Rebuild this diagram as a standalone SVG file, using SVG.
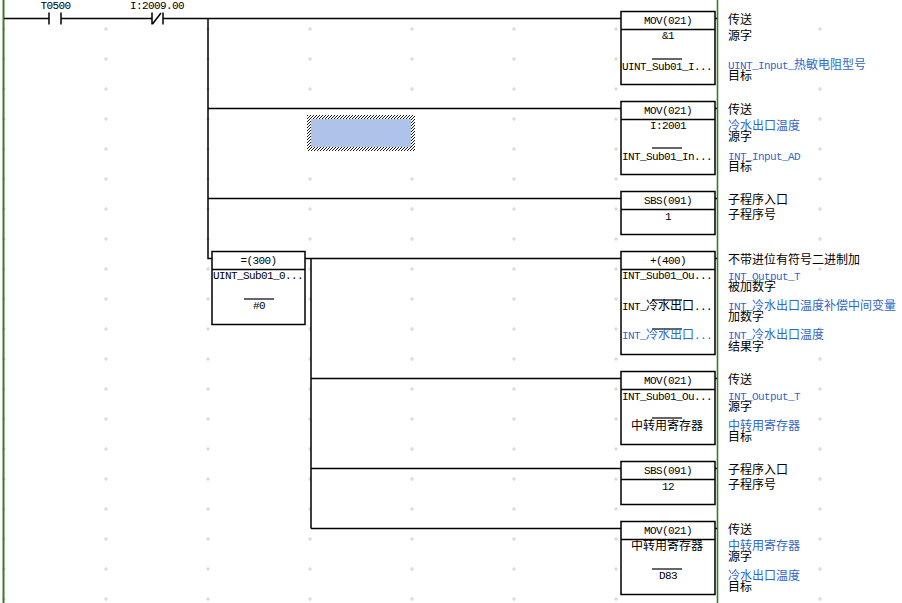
<svg xmlns="http://www.w3.org/2000/svg" width="902" height="603" viewBox="0 0 902 603">
<defs>
<style>
.ln{stroke:#000;stroke-width:1.5;fill:none}
.bx{fill:#fff;stroke:#000;stroke-width:1.5}
.ov{stroke:#000;stroke-width:1.2}
.rail{stroke:#3f7a26;fill:none}
.m{font-family:"Liberation Mono","DejaVu Sans Mono",monospace;font-size:11px;letter-spacing:-0.6px;fill:#000}
.c{text-anchor:middle}
.cj{font-family:"Noto Sans CJK SC","Noto Sans CJK JP",sans-serif;font-size:12px;letter-spacing:0}
.k{font-family:"Noto Sans CJK SC","Noto Sans CJK JP",sans-serif;font-size:12px;fill:#000}
.b{fill:#2f68c8}
.g{stroke:#d2d2d2;stroke-width:1}
</style>
<pattern id="hatch" patternUnits="userSpaceOnUse" width="3" height="3">
<rect width="3" height="3" fill="#fff"/>
<path d="M0 3 L3 0" stroke="#000" stroke-width="0.9"/>
</pattern>
</defs>
<rect width="902" height="603" fill="#fff"/>
<g id="grid">
<path class="g" d="M2 29H6M4 27V31M104 29H108M106 27V31M206 29H210M208 27V31M308 29H312M310 27V31M410 29H414M412 27V31M512 29H516M514 27V31M614 29H618M616 27V31M818 29H822M820 27V31
M2 59H6M4 57V61M104 59H108M106 57V61M206 59H210M208 57V61M308 59H312M310 57V61M410 59H414M412 57V61M512 59H516M514 57V61M614 59H618M616 57V61M818 59H822M820 57V61
M2 89H6M4 87V91M104 89H108M106 87V91M206 89H210M208 87V91M308 89H312M310 87V91M410 89H414M412 87V91M512 89H516M514 87V91M614 89H618M616 87V91M818 89H822M820 87V91
M2 119H6M4 117V121M104 119H108M106 117V121M206 119H210M208 117V121M308 119H312M310 117V121M410 119H414M412 117V121M512 119H516M514 117V121M614 119H618M616 117V121M818 119H822M820 117V121
M2 149H6M4 147V151M104 149H108M106 147V151M206 149H210M208 147V151M308 149H312M310 147V151M410 149H414M412 147V151M512 149H516M514 147V151M614 149H618M616 147V151M818 149H822M820 147V151
M2 179H6M4 177V181M104 179H108M106 177V181M206 179H210M208 177V181M308 179H312M310 177V181M410 179H414M412 177V181M512 179H516M514 177V181M614 179H618M616 177V181M818 179H822M820 177V181
M2 209H6M4 207V211M104 209H108M106 207V211M206 209H210M208 207V211M308 209H312M310 207V211M410 209H414M412 207V211M512 209H516M514 207V211M614 209H618M616 207V211M818 209H822M820 207V211
M2 239H6M4 237V241M104 239H108M106 237V241M206 239H210M208 237V241M308 239H312M310 237V241M410 239H414M412 237V241M512 239H516M514 237V241M614 239H618M616 237V241M818 239H822M820 237V241
M2 269H6M4 267V271M104 269H108M106 267V271M206 269H210M208 267V271M308 269H312M310 267V271M410 269H414M412 267V271M512 269H516M514 267V271M614 269H618M616 267V271M818 269H822M820 267V271
M2 299H6M4 297V301M104 299H108M106 297V301M206 299H210M208 297V301M308 299H312M310 297V301M410 299H414M412 297V301M512 299H516M514 297V301M614 299H618M616 297V301M818 299H822M820 297V301
M2 329H6M4 327V331M104 329H108M106 327V331M206 329H210M208 327V331M308 329H312M310 327V331M410 329H414M412 327V331M512 329H516M514 327V331M614 329H618M616 327V331M818 329H822M820 327V331
M2 359H6M4 357V361M104 359H108M106 357V361M206 359H210M208 357V361M308 359H312M310 357V361M410 359H414M412 357V361M512 359H516M514 357V361M614 359H618M616 357V361M818 359H822M820 357V361
M2 389H6M4 387V391M104 389H108M106 387V391M206 389H210M208 387V391M308 389H312M310 387V391M410 389H414M412 387V391M512 389H516M514 387V391M614 389H618M616 387V391M818 389H822M820 387V391
M2 419H6M4 417V421M104 419H108M106 417V421M206 419H210M208 417V421M308 419H312M310 417V421M410 419H414M412 417V421M512 419H516M514 417V421M614 419H618M616 417V421M818 419H822M820 417V421
M2 449H6M4 447V451M104 449H108M106 447V451M206 449H210M208 447V451M308 449H312M310 447V451M410 449H414M412 447V451M512 449H516M514 447V451M614 449H618M616 447V451M818 449H822M820 447V451
M2 479H6M4 477V481M104 479H108M106 477V481M206 479H210M208 477V481M308 479H312M310 477V481M410 479H414M412 477V481M512 479H516M514 477V481M614 479H618M616 477V481M818 479H822M820 477V481
M2 509H6M4 507V511M104 509H108M106 507V511M206 509H210M208 507V511M308 509H312M310 507V511M410 509H414M412 507V511M512 509H516M514 507V511M614 509H618M616 507V511M818 509H822M820 507V511
M2 539H6M4 537V541M104 539H108M106 537V541M206 539H210M208 537V541M308 539H312M310 537V541M410 539H414M412 537V541M512 539H516M514 537V541M614 539H618M616 537V541M818 539H822M820 537V541
M2 569H6M4 567V571M104 569H108M106 567V571M206 569H210M208 567V571M308 569H312M310 567V571M410 569H414M412 567V571M512 569H516M514 567V571M614 569H618M616 567V571M818 569H822M820 567V571
M2 599H6M4 597V601M104 599H108M106 597V601M206 599H210M208 597V601M308 599H312M310 597V601M410 599H414M412 597V601M512 599H516M514 597V601M614 599H618M616 597V601M818 599H822M820 597V601"/>
</g>
<g id="rails">
<path class="rail" d="M3.5 0V603" stroke-width="2"/>
<path class="rail" d="M717.5 0V603" stroke-width="1.6"/>
</g>
<g id="connectors">
<path class="ln" d="M4 18.5H49M61 18.5H152M163 18.5H621"/>
<path class="ln" d="M208 18.5V258.5H212"/>
<path class="ln" d="M208 108.5H621M208 198.5H621"/>
<path class="ln" d="M305 258.5H621M311 258.5V528.5M311 378.5H621M311 468.5H621M311 528.5H621"/>
<path class="ln" d="M715 18.5H717M715 108.5H717M715 198.5H717M715 258.5H717M715 378.5H717M715 468.5H717M715 528.5H717"/>
</g>
<g id="T0500">
<path class="ln" d="M49 12.5V24.5M61 12.5V24.5"/>
<text class="m c" x="55.5" y="9">T0500</text>
</g>
<g id="I2009">
<path class="ln" d="M152 12.5V24.5M163 12.5V24.5M152.5 24L161 13"/>
<text class="m c" x="157" y="9">I:2009.00</text>
</g>
<g id="selection">
<rect x="307" y="115" width="108" height="36" fill="url(#hatch)"/>
<rect x="311" y="119" width="100" height="28" fill="#adc3e9"/>
</g>
<g id="mov1">
<rect class="bx" x="621" y="11.5" width="94" height="73"/>
<path class="ln" d="M621 29.5H715"/>
<text class="m c" x="668" y="24">MOV(021)</text>
<text class="m c" x="668" y="39">&amp;1</text>
<path class="ov" d="M652 59H682"/>
<text class="m" x="622" y="70">UINT_Sub01_I...</text>
<text class="k" x="728" y="24">传送</text>
<text class="k" x="728" y="40">源字</text>
<text class="m b" x="728" y="69">UINT_Input_<tspan class="cj">热敏电阻型号</tspan></text>
<text class="k" x="728" y="80">目标</text>
</g>
<g id="mov2">
<rect class="bx" x="621" y="101.5" width="94" height="73"/>
<path class="ln" d="M621 119.5H715"/>
<text class="m c" x="668" y="114">MOV(021)</text>
<text class="m c" x="668" y="129">I:2001</text>
<path class="ov" d="M652 148H682"/>
<text class="m" x="622" y="160">INT_Sub01_In...</text>
<text class="k" x="728" y="114">传送</text>
<text class="k b" x="728" y="130">冷水出口温度</text>
<text class="k" x="728" y="141">源字</text>
<text class="m b" x="728" y="160">INT_Input_AD</text>
<text class="k" x="728" y="171">目标</text>
</g>
<g id="sbs1">
<rect class="bx" x="621" y="191.5" width="94" height="43"/>
<path class="ln" d="M621 209.5H715"/>
<text class="m c" x="668" y="204">SBS(091)</text>
<text class="m c" x="668" y="220">1</text>
<text class="k" x="728" y="204">子程序入口</text>
<text class="k" x="728" y="219">子程序号</text>
</g>
<g id="eq300">
<rect class="bx" x="212" y="251.5" width="93" height="73"/>
<path class="ln" d="M212 269.5H305"/>
<text class="m c" x="258.5" y="264">=(300)</text>
<text class="m" x="213" y="279">UINT_Sub01_0...</text>
<path class="ov" d="M244 299H274"/>
<text class="m c" x="259" y="309">#0</text>
</g>
<g id="add400">
<rect class="bx" x="621" y="251.5" width="94" height="103"/>
<path class="ln" d="M621 269.5H715"/>
<text class="m c" x="668" y="264">+(400)</text>
<text class="m" x="622" y="279">INT_Sub01_Ou...</text>
<path class="ov" d="M652 300H682"/>
<text class="m" x="622" y="310">INT_<tspan class="cj">冷水出口</tspan>...</text>
<path class="ov" d="M652 329H682"/>
<text class="m b" x="622" y="339">INT_<tspan class="cj">冷水出口</tspan>...</text>
<text class="k" x="728" y="264">不带进位有符号二进制加</text>
<text class="m b" x="728" y="280">INT_Output_T</text>
<text class="k" x="728" y="291">被加数字</text>
<text class="m b" x="728" y="310">INT_<tspan class="cj">冷水出口温度补偿中间变量</tspan></text>
<text class="k" x="728" y="321">加数字</text>
<text class="m b" x="728" y="339">INT_<tspan class="cj">冷水出口温度</tspan></text>
<text class="k" x="728" y="351">结果字</text>
</g>
<g id="mov3">
<rect class="bx" x="621" y="371.5" width="94" height="73"/>
<path class="ln" d="M621 389.5H715"/>
<text class="m c" x="668" y="384">MOV(021)</text>
<text class="m" x="622" y="400">INT_Sub01_Ou...</text>
<path class="ov" d="M652 418H682"/>
<text class="k c" x="667" y="430">中转用寄存器</text>
<text class="k" x="728" y="384">传送</text>
<text class="m b" x="728" y="400">INT_Output_T</text>
<text class="k" x="728" y="411">源字</text>
<text class="k b" x="728" y="430">中转用寄存器</text>
<text class="k" x="728" y="441">目标</text>
</g>
<g id="sbs2">
<rect class="bx" x="621" y="461.5" width="94" height="43"/>
<path class="ln" d="M621 479.5H715"/>
<text class="m c" x="668" y="474">SBS(091)</text>
<text class="m c" x="668" y="490">12</text>
<text class="k" x="728" y="474">子程序入口</text>
<text class="k" x="728" y="489">子程序号</text>
</g>
<g id="mov4">
<rect class="bx" x="621" y="521.5" width="94" height="73"/>
<path class="ln" d="M621 539.5H715"/>
<text class="m c" x="668" y="534">MOV(021)</text>
<text class="k c" x="667" y="550">中转用寄存器</text>
<path class="ov" d="M652 569H682"/>
<text class="m c" x="668" y="579">D83</text>
<text class="k" x="728" y="534">传送</text>
<text class="k b" x="728" y="550">中转用寄存器</text>
<text class="k" x="728" y="561">源字</text>
<text class="k b" x="728" y="580">冷水出口温度</text>
<text class="k" x="728" y="591">目标</text>
</g>
</svg>
